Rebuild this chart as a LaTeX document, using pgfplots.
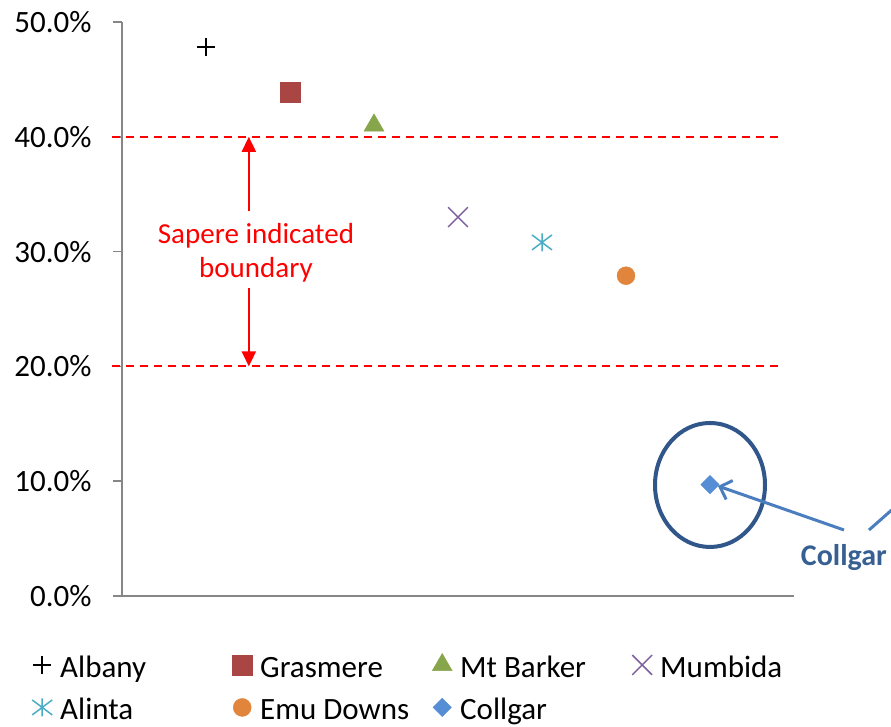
\documentclass[border=0pt]{standalone}
\usepackage{pgfplots}
\pgfplotsset{compat=1.18}
\usepackage{fontspec}
\setmainfont{Carlito}
\usetikzlibrary{arrows.meta}
\definecolor{cGras}{HTML}{A94543}
\definecolor{cMt}{HTML}{87A54B}
\definecolor{cMum}{HTML}{7D60A0}
\definecolor{cAli}{HTML}{4BACC6}
\definecolor{cEmu}{HTML}{E0853B}
\definecolor{cCol}{HTML}{558ED5}
\definecolor{cCirc}{HTML}{30568A}
\definecolor{cArr}{HTML}{4A7EBF}
\definecolor{cTxt}{HTML}{376092}
\definecolor{axgray}{HTML}{868686}
\pgfdeclareplotmark{xbar}{%
  \pgfpathmoveto{\pgfqpoint{-10bp}{-7.5bp}}%
  \pgfpathlineto{\pgfqpoint{10bp}{7.5bp}}%
  \pgfpathmoveto{\pgfqpoint{-10bp}{7.5bp}}%
  \pgfpathlineto{\pgfqpoint{10bp}{-7.5bp}}%
  \pgfpathmoveto{\pgfqpoint{0pt}{-9bp}}%
  \pgfpathlineto{\pgfqpoint{0pt}{9bp}}%
  \pgfusepathqstroke}
\newcommand{\legtxt}[1]{\makebox[172bp][l]{\rule[-9bp]{0pt}{35bp}#1}}
\begin{document}
\begin{tikzpicture}[x=1bp,y=1bp]
\useasboundingbox (-122,-131) rectangle (769,596);
\begin{axis}[
  at={(0,0)}, anchor=origin,
  scale only axis, width=672bp, height=574bp,
  xmin=0, xmax=8, ymin=0, ymax=50,
  axis x line=bottom, axis y line=left,
  axis line style={draw=axgray, line width=1.6bp, -},
  xtick=\empty,
  ytick={0,10,20,30,40,50},
  yticklabel={\pgfmathprintnumber[fixed,fixed zerofill,precision=1]{\tick}\%},
  /pgf/number format/assume math mode=true,
  tick style={draw=axgray, line width=1.6bp},
  major tick length=9bp,
  tick align=outside,
  y tick label style={font=\fontsize{31bp}{36bp}\selectfont, xshift=-18bp},
  clip=false,
  legend columns=4,
  legend style={draw=none, fill=none, font=\fontsize{31bp}{38bp}\selectfont,
    at={(axis description cs:-0.1339,-0.0958)}, anchor=north west,
    column sep=0bp, row sep=15bp, inner sep=0pt, nodes={inner sep=0pt}},
  legend cell align=left,
  legend image code/.code={\path[draw=none,fill=none] (0bp,0bp) -- (28bp,0bp); \draw[#1] plot coordinates {(10bp,0bp)};},
]
\addplot[only marks, mark=+, mark size=9bp, mark options={draw=black, line width=1.5bp}] coordinates {(1,47.8)};
\addlegendentry{\legtxt{Albany}}
\addplot[only marks, mark=square*, mark size=10bp, mark options={draw=cGras, fill=cGras}] coordinates {(2,43.9)};
\addlegendentry{\legtxt{Grasmere}}
\addplot[only marks, mark=triangle*, mark size=11.5bp, mark options={draw=cMt, fill=cMt}] coordinates {(3,41.0)};
\addlegendentry{\legtxt{Mt Barker}}
\addplot[only marks, mark=x, mark size=14bp, mark options={draw=cMum, line width=1.5bp}] coordinates {(4,33.0)};
\addlegendentry{\legtxt{Mumbida}}
\addplot[only marks, mark=xbar, mark size=9bp, mark options={draw=cAli, line width=1.5bp}] coordinates {(5,30.8)};
\addlegendentry{\legtxt{Alinta}}
\addplot[only marks, mark=*, mark size=9bp, mark options={draw=cEmu, fill=cEmu}] coordinates {(6,27.9)};
\addlegendentry{\legtxt{Emu Downs}}
\addplot[only marks, mark=square*, mark size=6.5bp, mark options={draw=cCol, fill=cCol, rotate=45}] coordinates {(7,9.7)};
\addlegendentry{\legtxt{Collgar}}

\draw[red, line width=2bp, dash pattern=on 8bp off 6bp] (axis cs:-0.12,40) -- (axis cs:7.83,40);
\draw[red, line width=2bp, dash pattern=on 8bp off 6bp] (axis cs:-0.12,20) -- (axis cs:7.83,20);
\draw[red, line width=2bp, -{Triangle[length=15bp,width=14bp]}] (axis cs:1.51,33.5) -- (axis cs:1.51,40);
\draw[red, line width=2bp, -{Triangle[length=15bp,width=14bp]}] (axis cs:1.51,26.8) -- (axis cs:1.51,20);
\node[red, align=center, font=\fontsize{29bp}{34bp}\selectfont] at (axis cs:1.595,29.9) {Sapere indicated\\boundary};

\draw[cCirc, line width=4bp] (axis cs:7.0,9.67) ellipse [x radius=55bp, y radius=62bp];
\draw[cArr, line width=3bp, -{Straight Barb[length=10bp,width=20bp]}] (axis cs:8.595,5.75) -- (axis cs:7.095,9.58);
\draw[cArr, line width=3bp] (axis cs:8.893,5.75) -- (axis cs:9.35,8.7);
\node[cTxt, font=\fontsize{30bp}{34bp}\selectfont\bfseries, anchor=west] at (axis cs:8.04,3.31) {Collgar};
\end{axis}
\end{tikzpicture}
\end{document}
